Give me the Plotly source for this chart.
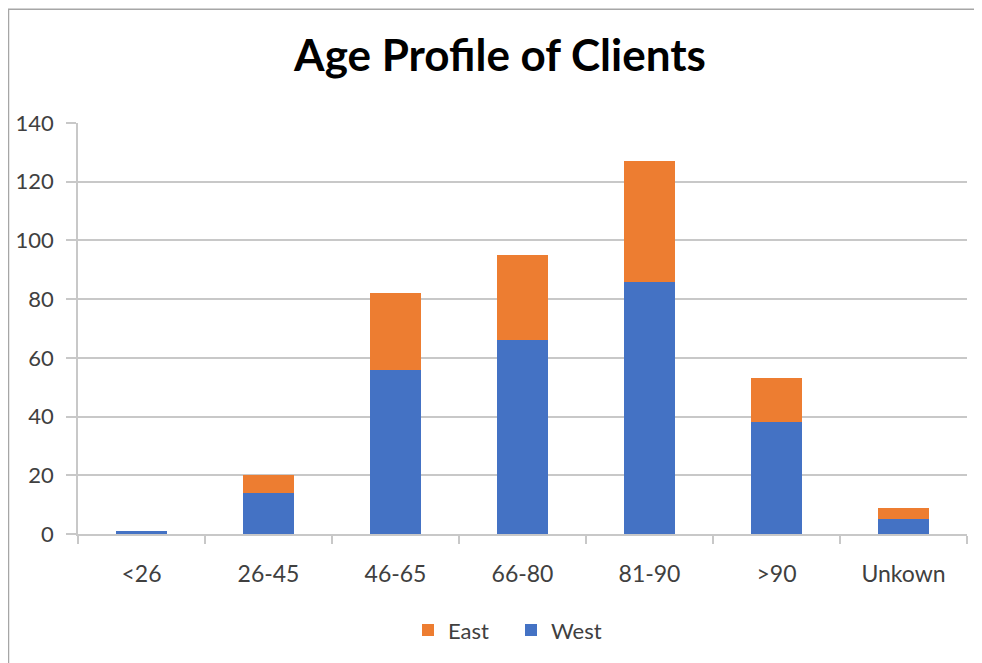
import plotly.graph_objects as go

# age groups and client counts per region
age_groups = ["<26", "26-45", "46-65", "66-80", "81-90", ">90", "Unkown"]
west = [1, 14, 56, 66, 86, 38, 5]
east = [0, 6, 26, 29, 41, 15, 4]
y_ticks = [0, 20, 40, 60, 80, 100, 120, 140]

font_name = "Lato, Open Sans, sans-serif"
grid_col = "#c8c8c8"

fig = go.Figure()
fig.add_trace(go.Bar(x=age_groups, y=west, name="West", marker_color="#4472C4",
                     marker_line_width=0))
fig.add_trace(go.Bar(x=age_groups, y=east, name="East", marker_color="#ED7D31",
                     marker_line_width=0))

# page body adds an 8px offset, so work in figure pixels
OFF = 8
W, H = 982 - OFF, 663 - OFF
L, R, T, B = 78 - OFF, 967 - OFF, 123 - OFF, 537 - OFF
pw, ph = R - L, B - T

def px_x(x):
    return (x - OFF - L) / pw

def px_y(y):
    return (B - (y - OFF)) / ph

# outer chart border like the Excel frame
fig.add_shape(type="rect", xref="paper", yref="paper",
              x0=px_x(8.5), x1=px_x(979), y0=px_y(700), y1=px_y(8.5),
              line=dict(color="#a6a6a6", width=1.5), layer="below")

fig.update_layout(
    width=W, height=H,
    margin=dict(l=L, r=W - R, t=T, b=H - B),
    barmode="stack",
    bargap=0.6,
    paper_bgcolor="white",
    plot_bgcolor="white",
    font=dict(family=font_name, color="#404040"),
    title=dict(text="<b>Age Profile of Clients</b>", x=(500 - OFF) / W,
               xref="container", xanchor="center",
               y=1 - (56 - OFF) / H, yanchor="middle",
               font=dict(size=44, color="black", family=font_name)),
    legend=dict(orientation="h", traceorder="reversed", x=px_x(408), xanchor="left",
                y=px_y(634), yanchor="middle", font=dict(size=22, color="#404040"),
                itemwidth=30, entrywidth=58, entrywidthmode="pixels"),
    showlegend=True,
)

fig.update_xaxes(
    type="category",
    automargin=False,
    showline=True, linecolor=grid_col, linewidth=1.5,
    ticks="outside", tickson="boundaries", ticklen=8, tickcolor=grid_col,
    tickwidth=1.5,
    tickfont=dict(size=23, color="#404040"),
    ticklabelstandoff=19,
    showgrid=False,
)
fig.update_yaxes(
    range=[0, 140], tickvals=y_ticks,
    automargin=False,
    showgrid=True, gridcolor=grid_col, gridwidth=1.5,
    showline=True, linecolor=grid_col, linewidth=1.5,
    ticks="outside", ticklen=10, tickcolor=grid_col, tickwidth=1.5,
    tickfont=dict(size=22, color="#404040"),
    ticklabelstandoff=8,
    zeroline=False,
)

fig.write_html("out.html")
